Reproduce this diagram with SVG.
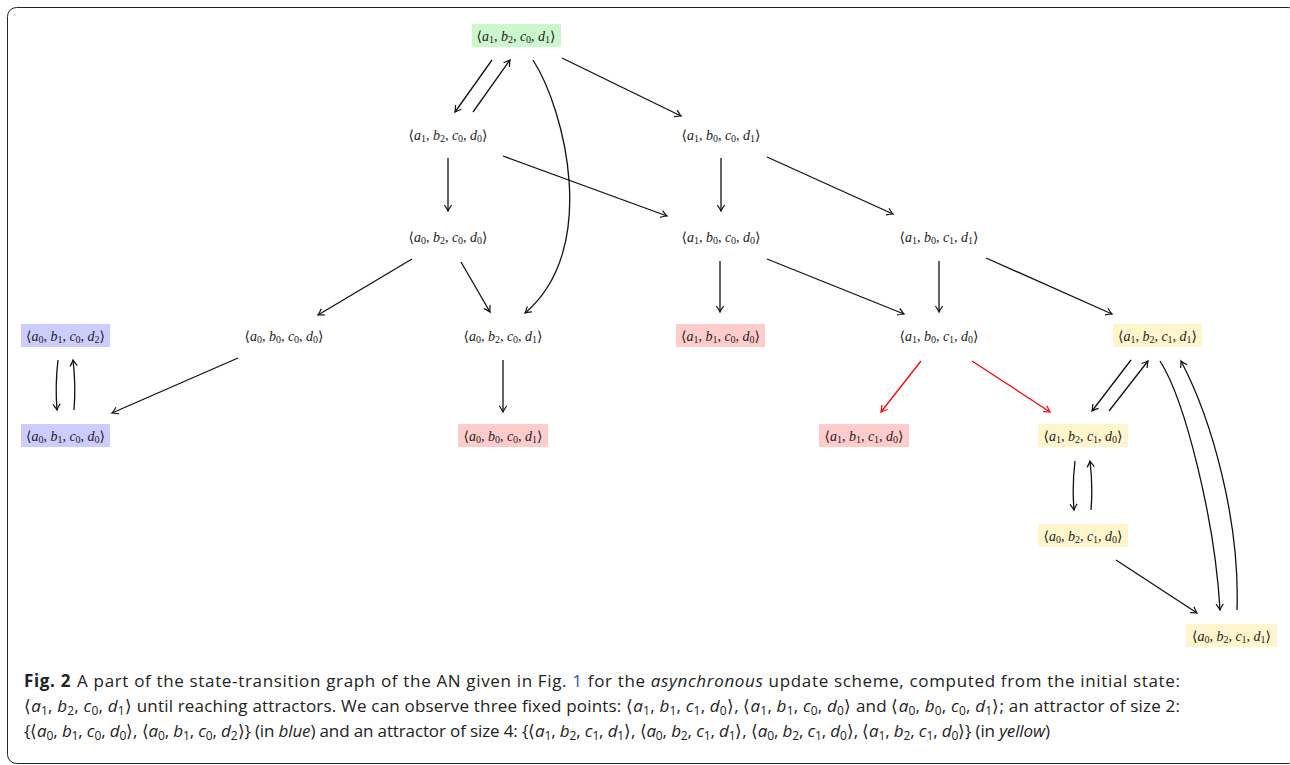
<svg xmlns="http://www.w3.org/2000/svg" width="1290" height="765" viewBox="0 0 1290 765">
<style>
.lbl{font-family:"Liberation Serif","DejaVu Serif",serif;font-size:14px;fill:#222;text-anchor:middle}
.i{font-style:italic}
.s{font-size:10px}
.g{fill:#ccf7cc}.b{fill:#ccccff}.r{fill:#ffcccc}.y{fill:#fff5cc}
.e{fill:none;stroke:#111;stroke-width:1.3;marker-end:url(#ah)}
.er{fill:none;stroke:#f00;stroke-width:1.3;marker-end:url(#ahr)}
.cap{font-family:"Open Sans","Liberation Sans",sans-serif;font-size:17px;fill:#222}
.ci{font-style:italic}
.cs{font-size:12px}
</style>
<defs>
<marker id="ah" viewBox="-8 -5 10 10" refX="0" refY="0" markerWidth="10" markerHeight="10" markerUnits="userSpaceOnUse" orient="auto">
<path d="M-6,-3.6 Q-1.5,-0.6 0,0 Q-1.5,0.6 -6,3.6" fill="none" stroke="#111" stroke-width="1.2"/>
</marker>
<marker id="ahr" viewBox="-8 -5 10 10" refX="0" refY="0" markerWidth="10" markerHeight="10" markerUnits="userSpaceOnUse" orient="auto">
<path d="M-6,-3.6 Q-1.5,-0.6 0,0 Q-1.5,0.6 -6,3.6" fill="none" stroke="#f00" stroke-width="1.2"/>
</marker>
</defs>
<rect x="7.5" y="7.5" width="1290" height="756" rx="9" fill="#fff" stroke="#222" stroke-width="1"/>

<g id="connectors">
<path class="e" d="M492,60 L455,112"/>
<path class="e" d="M473,112 L510,60"/>
<path class="e" d="M562,58 L681,116"/>
<path class="e" d="M533,60 C565,110 600,250 525,313"/>
<path class="e" d="M448,158 L448,211"/>
<path class="e" d="M503,156 L667,216"/>
<path class="e" d="M721,158 L721,211"/>
<path class="e" d="M767,157 L893,214"/>
<path class="e" d="M412,259 L318,315"/>
<path class="e" d="M461,262 L490,312"/>
<path class="e" d="M720,261 L720,312"/>
<path class="e" d="M767,259 L904,314"/>
<path class="e" d="M939,261 L939,312"/>
<path class="e" d="M986,258 L1112,314"/>
<path class="e" d="M58,360 Q55,385 57,410"/>
<path class="e" d="M74,410 Q76,385 73,360"/>
<path class="e" d="M238,358 L112,413"/>
<path class="e" d="M503,360 L503,412"/>
<path class="er" d="M921,361 L881,412"/>
<path class="er" d="M972,361 L1050,412"/>
<path class="e" d="M1131,360 L1092,411"/>
<path class="e" d="M1109,411 L1148,361"/>
<path class="e" d="M1075,461 Q1072,486 1074,510"/>
<path class="e" d="M1091,510 Q1093,486 1090,461"/>
<path class="e" d="M1116,560 L1197,613"/>
<path class="e" d="M1160,361 C1185,400 1215,520 1220,610"/>
<path class="e" d="M1237,610 C1240,520 1212,420 1181,361"/>
</g>

<g id="n1"><rect class="g" x="472" y="24" width="89" height="23"/>
<text class="lbl" x="516" y="40.5">⟨<tspan class="i">a</tspan><tspan class="s" dy="2.5">1</tspan><tspan dy="-2.5">, </tspan><tspan class="i">b</tspan><tspan class="s" dy="2.5">2</tspan><tspan dy="-2.5">, </tspan><tspan class="i">c</tspan><tspan class="s" dy="2.5">0</tspan><tspan dy="-2.5">, </tspan><tspan class="i">d</tspan><tspan class="s" dy="2.5">1</tspan><tspan dy="-2.5">⟩</tspan></text></g>

<g id="n2"><text class="lbl" x="448" y="139.5">⟨<tspan class="i">a</tspan><tspan class="s" dy="2.5">1</tspan><tspan dy="-2.5">, </tspan><tspan class="i">b</tspan><tspan class="s" dy="2.5">2</tspan><tspan dy="-2.5">, </tspan><tspan class="i">c</tspan><tspan class="s" dy="2.5">0</tspan><tspan dy="-2.5">, </tspan><tspan class="i">d</tspan><tspan class="s" dy="2.5">0</tspan><tspan dy="-2.5">⟩</tspan></text></g>

<g id="n3"><text class="lbl" x="721" y="139.5">⟨<tspan class="i">a</tspan><tspan class="s" dy="2.5">1</tspan><tspan dy="-2.5">, </tspan><tspan class="i">b</tspan><tspan class="s" dy="2.5">0</tspan><tspan dy="-2.5">, </tspan><tspan class="i">c</tspan><tspan class="s" dy="2.5">0</tspan><tspan dy="-2.5">, </tspan><tspan class="i">d</tspan><tspan class="s" dy="2.5">1</tspan><tspan dy="-2.5">⟩</tspan></text></g>

<g id="n4"><text class="lbl" x="448" y="241.5">⟨<tspan class="i">a</tspan><tspan class="s" dy="2.5">0</tspan><tspan dy="-2.5">, </tspan><tspan class="i">b</tspan><tspan class="s" dy="2.5">2</tspan><tspan dy="-2.5">, </tspan><tspan class="i">c</tspan><tspan class="s" dy="2.5">0</tspan><tspan dy="-2.5">, </tspan><tspan class="i">d</tspan><tspan class="s" dy="2.5">0</tspan><tspan dy="-2.5">⟩</tspan></text></g>

<g id="n5"><text class="lbl" x="721" y="241.5">⟨<tspan class="i">a</tspan><tspan class="s" dy="2.5">1</tspan><tspan dy="-2.5">, </tspan><tspan class="i">b</tspan><tspan class="s" dy="2.5">0</tspan><tspan dy="-2.5">, </tspan><tspan class="i">c</tspan><tspan class="s" dy="2.5">0</tspan><tspan dy="-2.5">, </tspan><tspan class="i">d</tspan><tspan class="s" dy="2.5">0</tspan><tspan dy="-2.5">⟩</tspan></text></g>

<g id="n6"><text class="lbl" x="939" y="241.5">⟨<tspan class="i">a</tspan><tspan class="s" dy="2.5">1</tspan><tspan dy="-2.5">, </tspan><tspan class="i">b</tspan><tspan class="s" dy="2.5">0</tspan><tspan dy="-2.5">, </tspan><tspan class="i">c</tspan><tspan class="s" dy="2.5">1</tspan><tspan dy="-2.5">, </tspan><tspan class="i">d</tspan><tspan class="s" dy="2.5">1</tspan><tspan dy="-2.5">⟩</tspan></text></g>

<g id="n7"><rect class="b" x="21" y="324" width="89" height="23"/>
<text class="lbl" x="65.5" y="340.5">⟨<tspan class="i">a</tspan><tspan class="s" dy="2.5">0</tspan><tspan dy="-2.5">, </tspan><tspan class="i">b</tspan><tspan class="s" dy="2.5">1</tspan><tspan dy="-2.5">, </tspan><tspan class="i">c</tspan><tspan class="s" dy="2.5">0</tspan><tspan dy="-2.5">, </tspan><tspan class="i">d</tspan><tspan class="s" dy="2.5">2</tspan><tspan dy="-2.5">⟩</tspan></text></g>

<g id="n8"><text class="lbl" x="284" y="340.5">⟨<tspan class="i">a</tspan><tspan class="s" dy="2.5">0</tspan><tspan dy="-2.5">, </tspan><tspan class="i">b</tspan><tspan class="s" dy="2.5">0</tspan><tspan dy="-2.5">, </tspan><tspan class="i">c</tspan><tspan class="s" dy="2.5">0</tspan><tspan dy="-2.5">, </tspan><tspan class="i">d</tspan><tspan class="s" dy="2.5">0</tspan><tspan dy="-2.5">⟩</tspan></text></g>

<g id="n9"><text class="lbl" x="503" y="340.5">⟨<tspan class="i">a</tspan><tspan class="s" dy="2.5">0</tspan><tspan dy="-2.5">, </tspan><tspan class="i">b</tspan><tspan class="s" dy="2.5">2</tspan><tspan dy="-2.5">, </tspan><tspan class="i">c</tspan><tspan class="s" dy="2.5">0</tspan><tspan dy="-2.5">, </tspan><tspan class="i">d</tspan><tspan class="s" dy="2.5">1</tspan><tspan dy="-2.5">⟩</tspan></text></g>

<g id="n10"><rect class="r" x="676" y="324" width="89" height="23"/>
<text class="lbl" x="720.5" y="340.5">⟨<tspan class="i">a</tspan><tspan class="s" dy="2.5">1</tspan><tspan dy="-2.5">, </tspan><tspan class="i">b</tspan><tspan class="s" dy="2.5">1</tspan><tspan dy="-2.5">, </tspan><tspan class="i">c</tspan><tspan class="s" dy="2.5">0</tspan><tspan dy="-2.5">, </tspan><tspan class="i">d</tspan><tspan class="s" dy="2.5">0</tspan><tspan dy="-2.5">⟩</tspan></text></g>

<g id="n11"><text class="lbl" x="939" y="340.5">⟨<tspan class="i">a</tspan><tspan class="s" dy="2.5">1</tspan><tspan dy="-2.5">, </tspan><tspan class="i">b</tspan><tspan class="s" dy="2.5">0</tspan><tspan dy="-2.5">, </tspan><tspan class="i">c</tspan><tspan class="s" dy="2.5">1</tspan><tspan dy="-2.5">, </tspan><tspan class="i">d</tspan><tspan class="s" dy="2.5">0</tspan><tspan dy="-2.5">⟩</tspan></text></g>

<g id="n12"><rect class="y" x="1113" y="324" width="89" height="23"/>
<text class="lbl" x="1157.5" y="340.5">⟨<tspan class="i">a</tspan><tspan class="s" dy="2.5">1</tspan><tspan dy="-2.5">, </tspan><tspan class="i">b</tspan><tspan class="s" dy="2.5">2</tspan><tspan dy="-2.5">, </tspan><tspan class="i">c</tspan><tspan class="s" dy="2.5">1</tspan><tspan dy="-2.5">, </tspan><tspan class="i">d</tspan><tspan class="s" dy="2.5">1</tspan><tspan dy="-2.5">⟩</tspan></text></g>

<g id="n13"><rect class="b" x="21" y="424" width="89" height="23"/>
<text class="lbl" x="65.5" y="440.5">⟨<tspan class="i">a</tspan><tspan class="s" dy="2.5">0</tspan><tspan dy="-2.5">, </tspan><tspan class="i">b</tspan><tspan class="s" dy="2.5">1</tspan><tspan dy="-2.5">, </tspan><tspan class="i">c</tspan><tspan class="s" dy="2.5">0</tspan><tspan dy="-2.5">, </tspan><tspan class="i">d</tspan><tspan class="s" dy="2.5">0</tspan><tspan dy="-2.5">⟩</tspan></text></g>

<g id="n14"><rect class="r" x="458" y="424" width="90" height="23"/>
<text class="lbl" x="503" y="440.5">⟨<tspan class="i">a</tspan><tspan class="s" dy="2.5">0</tspan><tspan dy="-2.5">, </tspan><tspan class="i">b</tspan><tspan class="s" dy="2.5">0</tspan><tspan dy="-2.5">, </tspan><tspan class="i">c</tspan><tspan class="s" dy="2.5">0</tspan><tspan dy="-2.5">, </tspan><tspan class="i">d</tspan><tspan class="s" dy="2.5">1</tspan><tspan dy="-2.5">⟩</tspan></text></g>

<g id="n15"><rect class="r" x="819" y="424" width="90" height="23"/>
<text class="lbl" x="864" y="440.5">⟨<tspan class="i">a</tspan><tspan class="s" dy="2.5">1</tspan><tspan dy="-2.5">, </tspan><tspan class="i">b</tspan><tspan class="s" dy="2.5">1</tspan><tspan dy="-2.5">, </tspan><tspan class="i">c</tspan><tspan class="s" dy="2.5">1</tspan><tspan dy="-2.5">, </tspan><tspan class="i">d</tspan><tspan class="s" dy="2.5">0</tspan><tspan dy="-2.5">⟩</tspan></text></g>

<g id="n16"><rect class="y" x="1038" y="424" width="90" height="23"/>
<text class="lbl" x="1083" y="440.5">⟨<tspan class="i">a</tspan><tspan class="s" dy="2.5">1</tspan><tspan dy="-2.5">, </tspan><tspan class="i">b</tspan><tspan class="s" dy="2.5">2</tspan><tspan dy="-2.5">, </tspan><tspan class="i">c</tspan><tspan class="s" dy="2.5">1</tspan><tspan dy="-2.5">, </tspan><tspan class="i">d</tspan><tspan class="s" dy="2.5">0</tspan><tspan dy="-2.5">⟩</tspan></text></g>

<g id="n17"><rect class="y" x="1038" y="524" width="90" height="23"/>
<text class="lbl" x="1083" y="540.5">⟨<tspan class="i">a</tspan><tspan class="s" dy="2.5">0</tspan><tspan dy="-2.5">, </tspan><tspan class="i">b</tspan><tspan class="s" dy="2.5">2</tspan><tspan dy="-2.5">, </tspan><tspan class="i">c</tspan><tspan class="s" dy="2.5">1</tspan><tspan dy="-2.5">, </tspan><tspan class="i">d</tspan><tspan class="s" dy="2.5">0</tspan><tspan dy="-2.5">⟩</tspan></text></g>

<g id="n18"><rect class="y" x="1186" y="624" width="91" height="23"/>
<text class="lbl" x="1231.5" y="640.5">⟨<tspan class="i">a</tspan><tspan class="s" dy="2.5">0</tspan><tspan dy="-2.5">, </tspan><tspan class="i">b</tspan><tspan class="s" dy="2.5">2</tspan><tspan dy="-2.5">, </tspan><tspan class="i">c</tspan><tspan class="s" dy="2.5">1</tspan><tspan dy="-2.5">, </tspan><tspan class="i">d</tspan><tspan class="s" dy="2.5">1</tspan><tspan dy="-2.5">⟩</tspan></text></g>

<g id="caption">
<text class="cap" x="24" y="687" textLength="1156" lengthAdjust="spacing"><tspan font-weight="bold">Fig. 2</tspan><tspan dx="6">A part of the state-transition graph of the AN given in Fig. </tspan><tspan fill="#2a5db0">1</tspan> for the <tspan class="ci">asynchronous</tspan> update scheme, computed from the initial state:</text>
<text class="cap" x="24" y="712" textLength="1156" lengthAdjust="spacing">⟨<tspan class="ci">a</tspan><tspan class="cs" dy="3">1</tspan><tspan dy="-3">, </tspan><tspan class="ci">b</tspan><tspan class="cs" dy="3">2</tspan><tspan dy="-3">, </tspan><tspan class="ci">c</tspan><tspan class="cs" dy="3">0</tspan><tspan dy="-3">, </tspan><tspan class="ci">d</tspan><tspan class="cs" dy="3">1</tspan><tspan dy="-3">⟩ until reaching attractors. We can observe three fixed points: ⟨</tspan><tspan class="ci">a</tspan><tspan class="cs" dy="3">1</tspan><tspan dy="-3">, </tspan><tspan class="ci">b</tspan><tspan class="cs" dy="3">1</tspan><tspan dy="-3">, </tspan><tspan class="ci">c</tspan><tspan class="cs" dy="3">1</tspan><tspan dy="-3">, </tspan><tspan class="ci">d</tspan><tspan class="cs" dy="3">0</tspan><tspan dy="-3">⟩, ⟨</tspan><tspan class="ci">a</tspan><tspan class="cs" dy="3">1</tspan><tspan dy="-3">, </tspan><tspan class="ci">b</tspan><tspan class="cs" dy="3">1</tspan><tspan dy="-3">, </tspan><tspan class="ci">c</tspan><tspan class="cs" dy="3">0</tspan><tspan dy="-3">, </tspan><tspan class="ci">d</tspan><tspan class="cs" dy="3">0</tspan><tspan dy="-3">⟩ and ⟨</tspan><tspan class="ci">a</tspan><tspan class="cs" dy="3">0</tspan><tspan dy="-3">, </tspan><tspan class="ci">b</tspan><tspan class="cs" dy="3">0</tspan><tspan dy="-3">, </tspan><tspan class="ci">c</tspan><tspan class="cs" dy="3">0</tspan><tspan dy="-3">, </tspan><tspan class="ci">d</tspan><tspan class="cs" dy="3">1</tspan><tspan dy="-3">⟩; an attractor of size 2:</tspan></text>
<text class="cap" x="24" y="737" textLength="1026" lengthAdjust="spacing">{⟨<tspan class="ci">a</tspan><tspan class="cs" dy="3">0</tspan><tspan dy="-3">, </tspan><tspan class="ci">b</tspan><tspan class="cs" dy="3">1</tspan><tspan dy="-3">, </tspan><tspan class="ci">c</tspan><tspan class="cs" dy="3">0</tspan><tspan dy="-3">, </tspan><tspan class="ci">d</tspan><tspan class="cs" dy="3">0</tspan><tspan dy="-3">⟩, ⟨</tspan><tspan class="ci">a</tspan><tspan class="cs" dy="3">0</tspan><tspan dy="-3">, </tspan><tspan class="ci">b</tspan><tspan class="cs" dy="3">1</tspan><tspan dy="-3">, </tspan><tspan class="ci">c</tspan><tspan class="cs" dy="3">0</tspan><tspan dy="-3">, </tspan><tspan class="ci">d</tspan><tspan class="cs" dy="3">2</tspan><tspan dy="-3">⟩} (in </tspan><tspan class="ci">blue</tspan>) and an attractor of size 4: {⟨<tspan class="ci">a</tspan><tspan class="cs" dy="3">1</tspan><tspan dy="-3">, </tspan><tspan class="ci">b</tspan><tspan class="cs" dy="3">2</tspan><tspan dy="-3">, </tspan><tspan class="ci">c</tspan><tspan class="cs" dy="3">1</tspan><tspan dy="-3">, </tspan><tspan class="ci">d</tspan><tspan class="cs" dy="3">1</tspan><tspan dy="-3">⟩, ⟨</tspan><tspan class="ci">a</tspan><tspan class="cs" dy="3">0</tspan><tspan dy="-3">, </tspan><tspan class="ci">b</tspan><tspan class="cs" dy="3">2</tspan><tspan dy="-3">, </tspan><tspan class="ci">c</tspan><tspan class="cs" dy="3">1</tspan><tspan dy="-3">, </tspan><tspan class="ci">d</tspan><tspan class="cs" dy="3">1</tspan><tspan dy="-3">⟩, ⟨</tspan><tspan class="ci">a</tspan><tspan class="cs" dy="3">0</tspan><tspan dy="-3">, </tspan><tspan class="ci">b</tspan><tspan class="cs" dy="3">2</tspan><tspan dy="-3">, </tspan><tspan class="ci">c</tspan><tspan class="cs" dy="3">1</tspan><tspan dy="-3">, </tspan><tspan class="ci">d</tspan><tspan class="cs" dy="3">0</tspan><tspan dy="-3">⟩, ⟨</tspan><tspan class="ci">a</tspan><tspan class="cs" dy="3">1</tspan><tspan dy="-3">, </tspan><tspan class="ci">b</tspan><tspan class="cs" dy="3">2</tspan><tspan dy="-3">, </tspan><tspan class="ci">c</tspan><tspan class="cs" dy="3">1</tspan><tspan dy="-3">, </tspan><tspan class="ci">d</tspan><tspan class="cs" dy="3">0</tspan><tspan dy="-3">⟩} (in </tspan><tspan class="ci">yellow</tspan>)</text>
</g>
</svg>
